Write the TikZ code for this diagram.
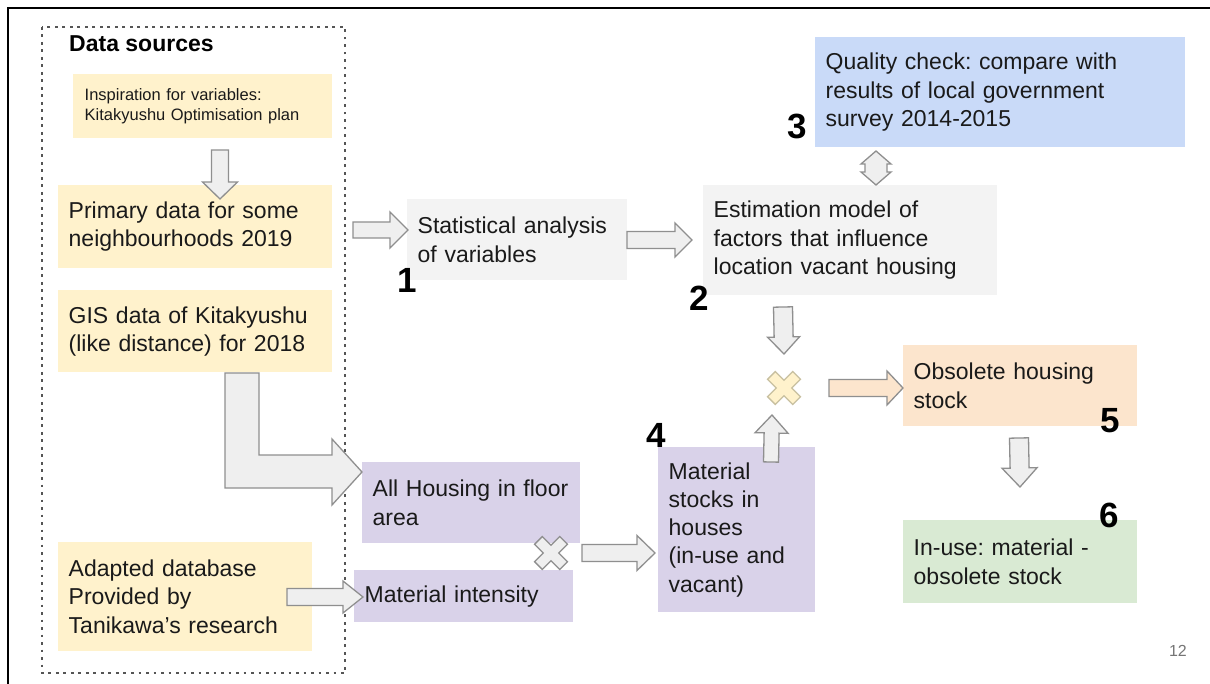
\documentclass[tikz,border=0pt]{standalone}
\usepackage{fontspec}
\setmainfont{Liberation Sans}
\usetikzlibrary{calc}
\frenchspacing

\definecolor{boxyellow}{HTML}{FFF2CC}
\definecolor{boxgray}{HTML}{F3F3F3}
\definecolor{boxblue}{HTML}{C9DAF8}
\definecolor{boxpurple}{HTML}{D9D2E9}
\definecolor{boxorange}{HTML}{FCE5CD}
\definecolor{boxgreen}{HTML}{D9EAD3}
\definecolor{arrowfill}{HTML}{EFEFEF}
\definecolor{arrowline}{HTML}{8F8F8F}
\definecolor{crossline}{HTML}{C8C0A0}
\definecolor{dotgray}{HTML}{555555}
\definecolor{txt}{HTML}{1A1A1A}
\definecolor{pagenum}{HTML}{757575}

\newcommand\bodyfont{\fontsize{23}{28.3}\selectfont}
\newcommand\smallbodyfont{\fontsize{16.5}{20}\selectfont}
\newcommand\titlefont{\fontsize{23}{28}\selectfont\bfseries}
\newcommand\stepfont{\fontsize{35}{35}\selectfont\bfseries}

% block arrow: [style] start, tip, shaft half width, head half width, head length (pt)
\newcommand\blockarrow[6][]{%
  \coordinate (bahead) at ($(#3)!#6pt!(#2)$);
  \draw[flowarrow,#1] ($(#2)!#4pt!90:(#3)$) -- ($(bahead)!#4pt!-90:(#2)$)
    -- ($(bahead)!#5pt!-90:(#2)$) -- (#3) -- ($(bahead)!#5pt!90:(#2)$)
    -- ($(bahead)!#4pt!90:(#2)$) -- ($(#2)!#4pt!-90:(#3)$) -- cycle;
}

% multiplication sign centred on a named coordinate
\newcommand\timesmark[2][]{%
  \draw[flowarrow,#1,shift={(#2)},rotate=45]
    (5.5,17.8) -- (5.5,5.5) -- (17.8,5.5) -- (17.8,-5.5) -- (5.5,-5.5)
    -- (5.5,-17.8) -- (-5.5,-17.8) -- (-5.5,-5.5) -- (-17.8,-5.5)
    -- (-17.8,5.5) -- (-5.5,5.5) -- (-5.5,17.8) -- cycle;
}

\tikzset{
  box/.style={anchor=north west, inner xsep=10.5pt, inner ysep=0pt,
    align=left, font=\bodyfont, text=txt},
  flowarrow/.style={draw=arrowline, fill=arrowfill, line width=1.3pt,
    line join=miter},
  stepnum/.style={anchor=base west, font=\stepfont, text=black, inner sep=0pt},
}

\begin{document}
\begin{tikzpicture}[x=1pt,y=-1pt]
\useasboundingbox (0,0) rectangle (1210,684);
\fill[white] (0,0) rectangle (1210,684);

% slide frame
\draw[black, line width=2.4pt] (8,684) -- (8,8) -- (1210,8);

% data sources group
\draw[dotgray, line width=2.8pt, dash pattern=on 2.6pt off 4.9pt]
  (42,27) rectangle (345,673);
\node[anchor=base west, font=\titlefont, text=black, inner sep=0pt]
  (title) at (69,52) {Data sources};

\node[box, font=\smallbodyfont, fill=boxyellow, minimum width=259pt,
  minimum height=64pt, text width=236pt, inner xsep=11.5pt] (inspire) at (73,74)
  {Inspiration for variables:\\Kitakyushu Optimisation plan};
\node[box, fill=boxyellow, minimum width=274pt, minimum height=83pt,
  text width=253pt] (primary) at (58,185)
  {Primary data for some\\neighbourhoods 2019};
\node[box, fill=boxyellow, minimum width=274pt, minimum height=82pt,
  text width=253pt] (gis) at (58,290)
  {GIS data of Kitakyushu\\(like distance) for 2018};
\node[box, fill=boxyellow, minimum width=254pt, minimum height=109pt,
  text width=233pt] (tanikawa) at (58,542)
  {Adapted database\\Provided by\\Tanikawa’s research};

% analysis chain
\node[box, fill=boxgray, minimum width=220pt, minimum height=81pt,
  text width=199pt] (stat) at (407,199)
  {Statistical analysis\\of variables};
\node[box, fill=boxgray, minimum width=294pt, minimum height=110pt,
  text width=273pt] (estim) at (703,185)
  {Estimation model of\\factors that influence\\location vacant housing};
\node[box, fill=boxblue, minimum width=370pt, minimum height=110pt,
  text width=349pt] (quality) at (815,37)
  {Quality check: compare with\\results of local government\\survey 2014-2015};

% material chain
\node[box, fill=boxpurple, minimum width=218pt, minimum height=81pt,
  text width=197pt] (housing) at (362,462)
  {All Housing in floor\\area};
\node[box, fill=boxpurple, minimum width=219pt, minimum height=52pt,
  text width=198pt] (intensity) at (354,570)
  {Material intensity};
\node[box, fill=boxpurple, minimum width=157pt, minimum height=165pt,
  text width=136pt] (stocks) at (658,447)
  {Material\\stocks in\\houses\\(in-use and\\vacant)};

% results
\node[box, fill=boxorange, minimum width=234pt, minimum height=81pt,
  text width=213pt] (obsolete) at (903,345)
  {Obsolete housing\\stock};
\node[box, fill=boxgreen, minimum width=234pt, minimum height=83pt,
  text width=213pt] (inuse) at (903,520)
  {In-use: material -\\obsolete stock};

% step numbers
\node[stepnum] (s1) at (397,293) {1};
\node[stepnum] (s2) at (689,311) {2};
\node[stepnum] (s3) at (787,139) {3};
\node[stepnum] (s4) at (646,447) {4};
\node[stepnum] (s5) at (1100,432) {5};
\node[stepnum] (s6) at (1099,527) {6};

% page number
\node[anchor=base east, font=\fontsize{16}{16}\selectfont, text=pagenum,
  inner sep=0pt] (page) at (1187,656) {12};

% combination marks
\coordinate (graytimes) at (551,553);
\coordinate (yellowtimes) at (784,388);
\timesmark{graytimes}
\timesmark[fill=boxyellow, draw=crossline]{yellowtimes}

% arrow end points
\coordinate (insp-out) at (220,150);   \coordinate (prim-in) at (220,199);
\coordinate (prim-out) at (353,230);   \coordinate (stat-in) at (408,230);
\coordinate (stat-out) at (627,240);   \coordinate (est-in) at (692,240);
\coordinate (tani-out) at (287,597);   \coordinate (int-in) at (363,597);
\coordinate (gt-out) at (582,553);     \coordinate (stk-in) at (655,553);
\coordinate (stk-out) at (771,462);    \coordinate (yt-low) at (772,415);
\coordinate (est-out) at (783,307);    \coordinate (yt-high) at (784,354);
\coordinate (yt-out) at (829,388);     \coordinate (obs-in) at (903,388);
\coordinate (obs-out) at (1019,438);   \coordinate (use-in) at (1020,487);

\blockarrow{insp-out}{prim-in}{8.5}{17.5}{17}
\blockarrow{prim-out}{stat-in}{8}{18}{18}
\blockarrow{stat-out}{est-in}{8.5}{17}{17}
\blockarrow{tani-out}{int-in}{8.5}{16}{20}
\blockarrow{gt-out}{stk-in}{8.5}{17.5}{18}
\blockarrow{stk-out}{yt-low}{7.5}{16.5}{18}
\blockarrow{est-out}{yt-high}{9.5}{16}{17}
\blockarrow[fill=boxorange]{yt-out}{obs-in}{8.5}{17}{16}
\blockarrow{obs-out}{use-in}{9.5}{17.5}{19}

% bent arrow from the GIS data into the floor area
\draw[flowarrow] (225,373) -- (259,373) -- (259,455) -- (332,455)
  -- (332,439) -- (362,472) -- (332,505) -- (332,488) -- (225,488) -- cycle;

% two-way arrow between estimation model and quality check
\draw[flowarrow] (876,151) -- (891,164) -- (887,164) -- (887,172)
  -- (891,172) -- (876,185) -- (861,172) -- (865,172) -- (865,164)
  -- (861,164) -- cycle;
\end{tikzpicture}
\end{document}
